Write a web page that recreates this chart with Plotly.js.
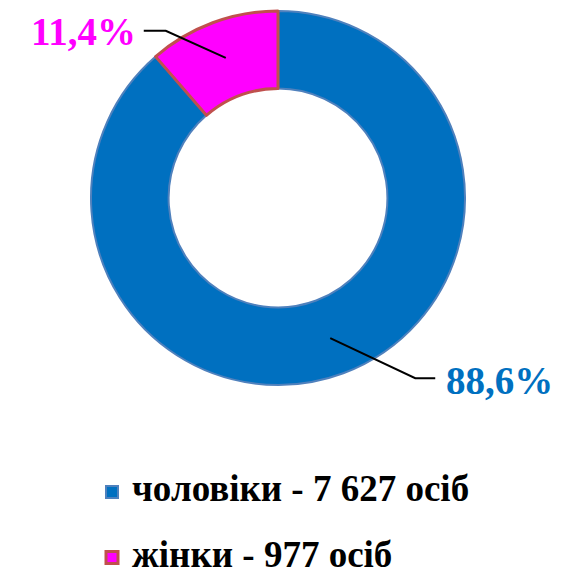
<!DOCTYPE html>
<html>
<head>
<meta charset="utf-8">
<script src="https://cdn.plot.ly/plotly-3.0.1.min.js"></script>
<style>html,body{margin:0;padding:0;background:#fff;}#chart{width:572px;height:575px;}</style>
</head>
<body>
<div id="chart"></div>
<script>
const categories = ["чоловіки", "жінки"];
const counts = [7627, 977];
const countLabels = ["7 627", "977"];
const percentLabels = ["88,6%", "11,4%"];
const fillColors = ["#0070c0", "#ff00ff"];
const borderColors = ["#4f81bd", "#c0504d"];
const labelColors = ["#0070c0", "#ff00ff"];

const W = 572, H = 575;
const cx = 278, cy = 198, R = 187;
const FONT = "Liberation Serif, Times New Roman, serif";

const legendText = categories.map((c, i) =>
  "<span style='font-size:37px'><b>" + c + " - " + countLabels[i] + " осіб</b></span><br> ");

const total = counts.reduce((a, b) => a + b, 0);
const elbowOffsets = [[85, 40], [-60, -27]];
const tailLen = [20, -22];
const textOffsets = [[64, 2], [-60, 1]];
const shapes = [], annotations = [];
let acc = 0;
const px = x => x / W, py = y => 1 - y / H;
counts.forEach((v, i) => {
  const mid = (acc + v / 2) / total * 2 * Math.PI; acc += v;
  const r = 0.8 * R;
  const x0 = cx + r * Math.sin(mid), y0 = cy - r * Math.cos(mid);
  const x1 = x0 + elbowOffsets[i][0], y1 = y0 + elbowOffsets[i][1];
  const x2 = x1 + tailLen[i];
  shapes.push({type: "path", xref: "paper", yref: "paper",
    path: `M${px(x0)},${py(y0)} L${px(x1)},${py(y1)} L${px(x2)},${py(y1)}`,
    line: {color: "#000", width: 2}});
  annotations.push({xref: "paper", yref: "paper", x: px(x2 + textOffsets[i][0]), y: py(y1 + textOffsets[i][1]),
    text: "<b>" + percentLabels[i] + "</b>", showarrow: false,
    font: {family: FONT, size: 39, color: labelColors[i]}, xanchor: "center", yanchor: "middle"});
});

const trace = {
  type: "pie",
  labels: legendText,
  values: counts,
  sort: false,
  direction: "clockwise",
  rotation: 0,
  hole: 0.585,
  textinfo: "none",
  marker: {colors: fillColors, line: {color: borderColors, width: [2, 3]}},
  domain: {x: [(cx - R) / W, (cx + R) / W], y: [1 - (cy + R) / H, 1 - (cy - R) / H]},
  hoverinfo: "none"
};

const layout = {
  width: W, height: H,
  margin: {l: 0, r: 0, t: 0, b: 0, autoexpand: false},
  paper_bgcolor: "#fff",
  showlegend: true,
  legend: {x: 92 / W, y: 1 - 470 / H, xanchor: "left", yanchor: "top", valign: "top",
    font: {family: FONT, size: 24, color: "#000"}, itemwidth: 30},
  shapes: shapes,
  annotations: annotations
};
Plotly.newPlot("chart", [trace], layout, {displayModeBar: false, staticPlot: true});
</script>
</body>
</html>
